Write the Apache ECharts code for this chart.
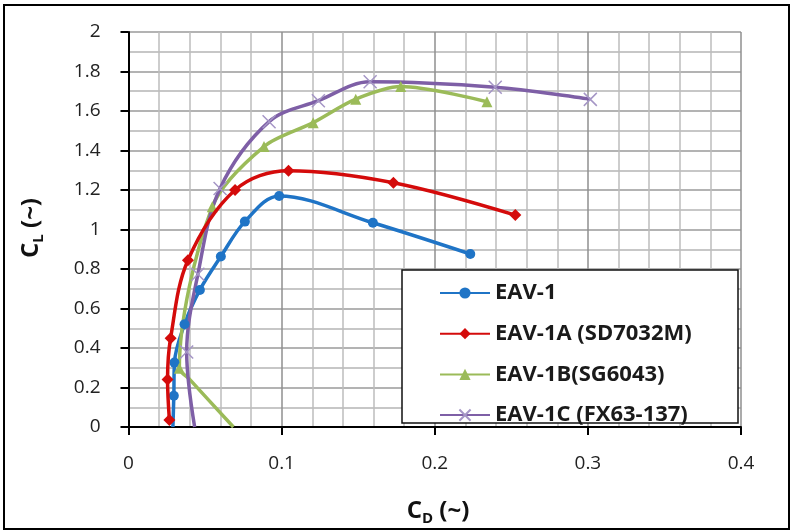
<!DOCTYPE html>
<html>
<head>
<meta charset="utf-8">
<script src="https://cdn.jsdelivr.net/npm/echarts@6/dist/echarts.min.js"></script>
<style>
html,body{margin:0;padding:0;background:#fff;}
#chart{width:794px;height:532px;}
</style>
</head>
<body>
<div id="chart"></div>
<script>
// ---- data (C_D, C_L) ----
var seriesNames = ['EAV-1', 'EAV-1A (SD7032M)', 'EAV-1B(SG6043)', 'EAV-1C (FX63-137)'];

var eav1_cd = [0.029, 0.0296, 0.0300, 0.0366, 0.0466, 0.0603, 0.0760, 0.0984, 0.1596, 0.2232];
var eav1_cl = [0.000, 0.158, 0.326, 0.520, 0.694, 0.863, 1.040, 1.170, 1.034, 0.876];

var eav1a_cd = [0.0267, 0.0255, 0.0275, 0.0388, 0.0696, 0.1045, 0.1730, 0.2526];
var eav1a_cl = [0.035, 0.240, 0.450, 0.844, 1.200, 1.298, 1.237, 1.073];

var eav1b_cd = [0.0685, 0.0395, 0.0332, 0.0547, 0.0885, 0.1206, 0.1484, 0.1778, 0.2341];
var eav1b_cl = [0.000, 0.245, 0.298, 1.115, 1.420, 1.541, 1.660, 1.724, 1.647];

var eav1c_cd = [0.0432, 0.0380, 0.0453, 0.0598, 0.0918, 0.1240, 0.1578, 0.2395, 0.3016];
var eav1c_cl = [0.000, 0.380, 0.773, 1.208, 1.546, 1.652, 1.748, 1.720, 1.659];

var xTicks = [0, 0.1, 0.2, 0.3, 0.4];
var yTicks = [0, 0.2, 0.4, 0.6, 0.8, 1, 1.2, 1.4, 1.6, 1.8, 2];

// points drawn without a visible marker (index lists)
var noMarker = [[0], [], [0, 1], [0]];

function pairs(xs, ys, hidden) {
  return xs.map(function (x, i) {
    var item = { value: [x, ys[i]] };
    if (hidden.indexOf(i) >= 0) item.symbol = 'none';
    return item;
  });
}

var colors = ['#1f74c6', '#d40b0b', '#9bbb59', '#7e5fa6'];
var crossPath = 'path://M0,0 L10,10 M10,0 L0,10';

var FONT = '"Open Sans", "Noto Sans", sans-serif';

var chart = echarts.init(document.getElementById('chart'), null, { renderer: 'canvas' });

var option = {
  animation: false,
  backgroundColor: '#ffffff',
  color: colors,
  grid: { left: 128.5, right: 53, top: 32, bottom: 105, containLabel: false },
  xAxis: {
    type: 'value', min: xTicks[0], max: xTicks[xTicks.length - 1], interval: 0.1,
    axisLine: { show: true, onZero: false, lineStyle: { color: '#000', width: 2 } },
    axisTick: { show: true, inside: false, length: 8, lineStyle: { color: '#000', width: 2 } },
    axisLabel: { margin: 27, fontSize: 19, color: '#222', fontFamily: FONT },
    splitLine: { show: true, lineStyle: { color: '#8f8f8f', width: 1.5 } },
    minorTick: { show: false, splitNumber: 5 },
    minorSplitLine: { show: true, lineStyle: { color: '#bdbdbd', width: 1.5 } }
  },
  yAxis: {
    type: 'value', min: yTicks[0], max: yTicks[yTicks.length - 1], interval: 0.2,
    axisLine: { show: true, onZero: false, lineStyle: { color: '#000', width: 2 } },
    axisTick: { show: true, inside: false, length: 8, lineStyle: { color: '#000', width: 2 } },
    axisLabel: { margin: 28, fontSize: 19, color: '#222', fontFamily: FONT },
    splitLine: { show: true, lineStyle: { color: '#9a9a9a', width: 1.5 } },
    minorTick: { show: false, splitNumber: 2 },
    minorSplitLine: { show: true, lineStyle: { color: '#b5b5b5', width: 1.5 } }
  },
  legend: {
    orient: 'vertical',
    left: 439, top: 282,
    padding: 0,
    itemGap: 18.7,
    itemWidth: 50, itemHeight: 14,
    z: 6,
    textStyle: { fontSize: 22, fontWeight: 'bold', color: '#1a1a1a', fontFamily: FONT, lineHeight: 22 },
    data: seriesNames
  },
  graphic: [
    { type: 'rect', z: 5, shape: { x: 402, y: 270, width: 336, height: 153 },
      style: { fill: '#fff', stroke: '#111', lineWidth: 1.5 } },
    { type: 'rect', z: 10, shape: { x: 4, y: 5, width: 785, height: 524 },
      style: { fill: null, stroke: '#000', lineWidth: 2 } },
    { type: 'text', z: 10, x: 438, y: 511,
      style: { text: '{c|C}{s|D}{c| (~)}', align: 'center', verticalAlign: 'middle',
        rich: { c: { fontSize: 24, fontWeight: 'bold', fontFamily: FONT, fill: '#111', lineHeight: 30, verticalAlign: 'middle' },
                s: { fontSize: 15, fontWeight: 'bold', fontFamily: FONT, fill: '#111', lineHeight: 30, verticalAlign: 'bottom' } } } },
    { type: 'text', z: 10, x: 31, y: 228, rotation: Math.PI / 2,
      style: { text: '{c|C}{s|L}{c| (~)}', align: 'center', verticalAlign: 'middle',
        rich: { c: { fontSize: 24, fontWeight: 'bold', fontFamily: FONT, fill: '#111', lineHeight: 30, verticalAlign: 'middle' },
                s: { fontSize: 15, fontWeight: 'bold', fontFamily: FONT, fill: '#111', lineHeight: 30, verticalAlign: 'bottom' } } } }
  ],
  series: [
    { name: seriesNames[0], type: 'line', smooth: 0.35, data: pairs(eav1_cd, eav1_cl, noMarker[0]),
      symbol: 'circle', symbolSize: 10, lineStyle: { width: 3.5, color: colors[0] },
      itemStyle: { color: colors[0] }, z: 2 },
    { name: seriesNames[1], type: 'line', smooth: 0.35, data: pairs(eav1a_cd, eav1a_cl, noMarker[1]),
      symbol: 'diamond', symbolSize: 12, lineStyle: { width: 3.5, color: colors[1] },
      itemStyle: { color: colors[1] }, z: 3 },
    { name: seriesNames[2], type: 'line', smooth: 0.3, data: pairs(eav1b_cd, eav1b_cl, noMarker[2]),
      symbol: 'triangle', symbolSize: 11, lineStyle: { width: 3.5, color: colors[2] },
      itemStyle: { color: colors[2] }, z: 2 },
    { name: seriesNames[3], type: 'line', smooth: 0.35, data: pairs(eav1c_cd, eav1c_cl, noMarker[3]),
      symbol: crossPath, symbolSize: 13, lineStyle: { width: 3.5, color: colors[3] },
      itemStyle: { color: '#a596c6', borderColor: '#a596c6', borderWidth: 1.5 }, z: 2 }
  ]
};
chart.setOption(option);
</script>
</body>
</html>
